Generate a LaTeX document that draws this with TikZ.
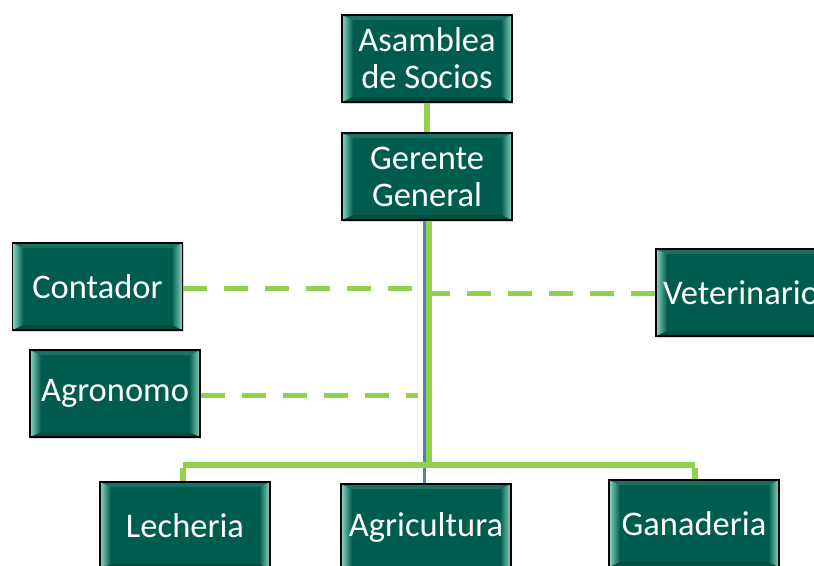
\documentclass[tikz,border=0pt]{standalone}
\usepackage{fontspec}
\setmainfont{Carlito}
\usetikzlibrary{shadows}
\definecolor{boxfill}{RGB}{0,92,76}
\definecolor{bevhi}{RGB}{140,215,195}
\definecolor{linkgreen}{RGB}{146,208,80}
\definecolor{linkblue}{RGB}{79,129,189}
\tikzset{
  orgbox/.style={
    draw=black, line width=1.5pt, fill=boxfill, text=white,
    minimum width=170pt, minimum height=87pt, inner sep=0pt,
    align=center, font=\fontsize{34.5}{37}\selectfont,
    drop shadow={shadow xshift=1pt, shadow yshift=-2pt, opacity=0.35},
    path picture={
      % side bevels
      \coordinate (nw) at (path picture bounding box.north west);
      \coordinate (se) at (path picture bounding box.south east);
      \coordinate (sw) at (nw |- se);
      \coordinate (ne) at (se |- nw);
      \fill[left color=bevhi, right color=boxfill]
        (nw) -- (sw) -- ([shift={(11,-5)}]sw) -- ([shift={(11,5)}]nw) -- cycle;
      \fill[right color=bevhi, left color=boxfill]
        (ne) -- (se) -- ([shift={(-11,-5)}]se) -- ([shift={(-11,5)}]ne) -- cycle;
      \fill[boxfill!70!bevhi, opacity=0.6]
        (nw) -- (ne) -- ([shift={(-11,5)}]ne) -- ([shift={(11,5)}]nw) -- cycle;
      \fill[black, opacity=0.15]
        (sw) -- (se) -- ([shift={(-11,-5)}]se) -- ([shift={(11,-5)}]sw) -- cycle;
    }},
  solidlink/.style={draw=linkgreen, line width=6pt},
  dashlink/.style={draw=linkgreen, line width=5pt, dash pattern=on 24pt off 17pt},
}
\begin{document}
\begin{tikzpicture}[x=1pt, y=-1pt]
  \useasboundingbox (0,0) rectangle (814,565);

  % connector end points
  \coordinate (bar) at (427,465);
  \coordinate (barL) at (183,465);
  \coordinate (barR) at (695,465);
  \coordinate (cEnd) at (420,288);
  \coordinate (vEnd) at (432,293);
  \coordinate (aEnd) at (418,395);

  % boxes
  \node[orgbox] (asamblea) at (427,58.5) {Asamblea\\de Socios};
  \node[orgbox] (gerente) at (427,176.5) {Gerente\\General};
  \node[orgbox] (contador) at (97.5,286.5) {Contador};
  \node[orgbox] (veterinario) at (741,292.5) {Veterinario};
  \node[orgbox] (agronomo) at (115,393.5) {Agronomo};
  \node[orgbox] (lecheria) at (185,525.5) {Lecheria};
  \node[orgbox] (agricultura) at (426,527.5) {Agricultura};
  \node[orgbox] (ganaderia) at (694,523.5) {Ganaderia};

  % solid hierarchy lines
  \draw[solidlink] (asamblea.south) -- (gerente.north);
  \draw[linkblue, line width=3.5pt] ([xshift=-2.5pt]gerente.south)
    -- ([xshift=-2.5pt]gerente.south |- agricultura.north);
  \draw[solidlink] ([xshift=1.5pt]gerente.south) -- ([xshift=1.5pt]gerente.south |- bar);
  \draw[solidlink] (barL) -- (barR);
  \draw[solidlink] ([yshift=-3pt]barL) -- (barL |- lecheria.north);
  \draw[solidlink] ([yshift=-3pt]barR) -- (barR |- ganaderia.north);

  % dashed staff lines
  \draw[dashlink] (contador.east |- cEnd) -- (cEnd);
  \draw[dashlink] (veterinario.west |- vEnd) -- (vEnd);
  \draw[dashlink] (agronomo.east |- aEnd) -- (aEnd);
\end{tikzpicture}
\end{document}
